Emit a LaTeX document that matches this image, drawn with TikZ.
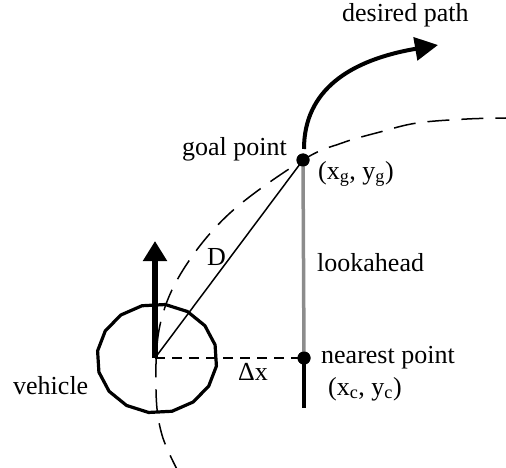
\documentclass[tikz,border=0pt]{standalone}
\usepackage{fontspec}
\setmainfont{Liberation Serif}
\usetikzlibrary{arrows.meta}
\begin{document}
\begin{tikzpicture}[x=1pt,y=-1pt,
  lbl/.style={anchor=base west,inner sep=0pt,font=\fontsize{26}{30}\selectfont},
  dotnode/.style={circle,fill=black,minimum size=13pt,inner sep=0pt},
  thinline/.style={line width=1.5pt},
  bigdash/.style={line width=1.5pt,dash pattern=on 22pt off 12pt},
  smalldash/.style={line width=1.5pt,dash pattern=on 10pt off 7pt}]
\useasboundingbox (0,0) rectangle (506,468);
% key points
\coordinate (V) at (155,358);
\coordinate (Vtip) at (155,241);
\coordinate (Nend) at (304,408);
\coordinate (Pstart) at (304,149);
\coordinate (Pend) at (438,45);
\node[dotnode] (G) at (303,160) {};
\node[dotnode] (N) at (304,358) {};
% lookahead (gray) and desired path below nearest point
\draw[line width=3.5pt,color=black!45] (G.center) -- (N.center);
\draw[line width=4.5pt] (N.center) -- (Nend);
% desired path
\draw[line width=4pt,-{Triangle[width=23pt,length=23pt]}] (Pstart) .. controls (304,90) and (350,60) .. (Pend);
% big dashed arc
\draw[bigdash] plot[smooth,tension=0.6] coordinates {(180,475) (162,435) (156,390) (160,325) (183,270) (230,213) (303,160) (342,143) (380,132) (417,123) (467,119) (506,118)};
% D line and dashed delta x
\draw[thinline] (V) -- (G.center);
\draw[smalldash] (V) -- (N.center);
% vehicle body
\draw[line width=3.2pt,line join=round] plot[samples=17,domain=8:368,variable=\t] ({157+60*cos(\t)},{358.5+54.5*sin(\t)}) -- cycle;
% heading arrow
\draw[line width=6pt,-{Triangle[width=23pt,length=20pt]}] (V) -- (Vtip);
% dots on top
\node[dotnode] at (G) {};
\node[dotnode] at (N) {};
% labels
\node[lbl] (tdes) at (342,22) {desired path};
\node[lbl] (tgoal) at (182,156) {goal point};
\node[lbl] (tgxy) at (318,179) {(x\textsubscript{g}, y\textsubscript{g})};
\node[lbl] (tD) at (207,265) {D};
\node[lbl] (tlook) at (317,271) {lookahead};
\node[lbl] (tnear) at (321,363) {nearest point};
\node[lbl] (tcxy) at (328,395) {(x\textsubscript{c}, y\textsubscript{c})};
\node[lbl] (tveh) at (13,394) {vehicle};
\node[lbl] (tdx) at (238,380) {Δx};
\end{tikzpicture}
\end{document}
